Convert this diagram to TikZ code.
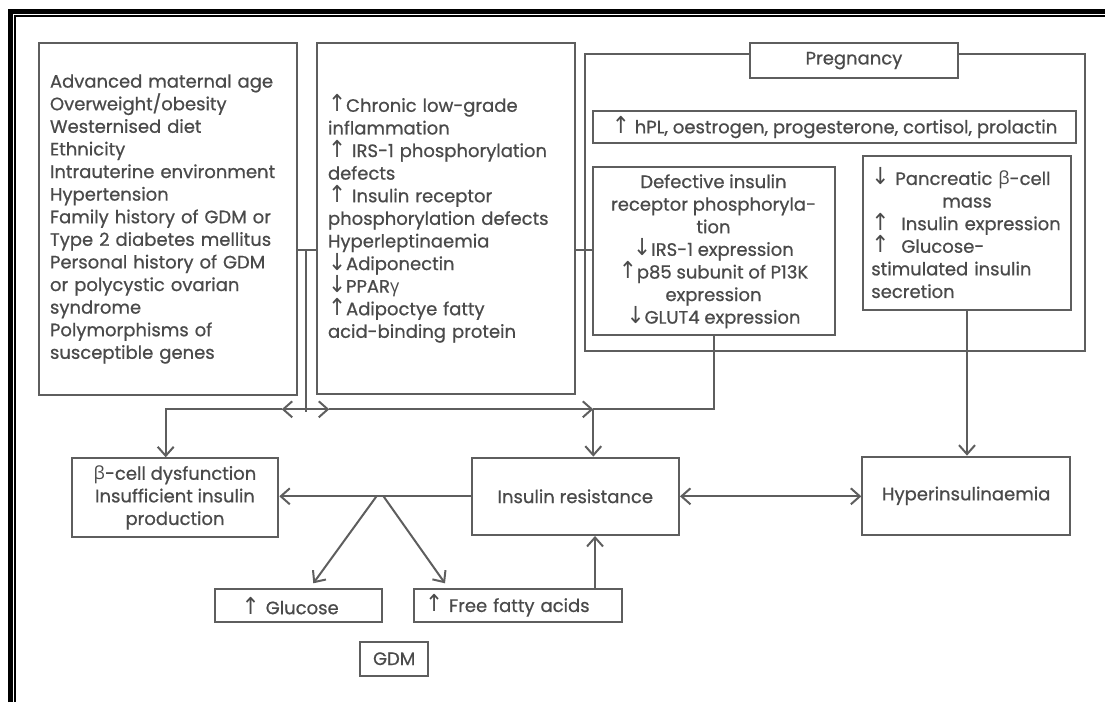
\documentclass[tikz,border=0pt]{standalone}
\usepackage{fontspec}
\usepackage{graphicx}
\setmainfont{Poppins}[FakeBold=0.7]
\newfontfamily\symfont{DejaVu Sans}
\newfontfamily\grkfont{Open Sans}
\usetikzlibrary{arrows.meta}
\newcommand{\uarr}{\scalebox{1.2}[1.3]{\symfont\char"2191}}
\newcommand{\darr}{\scalebox{1.2}[1.3]{\symfont\char"2193}}
\newcommand{\gbeta}{{\grkfont β}}
\newcommand{\ggamma}{{\grkfont γ}}
\definecolor{ln}{HTML}{5E5E5E}
\definecolor{tx}{HTML}{4A4A4A}
\begin{document}
\begin{tikzpicture}[x=1pt,y=-1pt,
  every node/.style={font=\fontsize{18}{22.6}\selectfont, text=tx},
  box/.style={draw=ln, line width=2pt, fill=white, inner sep=0pt},
  conn/.style={draw=ln, line width=2pt},
  arr/.style={conn, -{Straight Barb[length=9pt,width=16pt,line width=2pt]}},
  biarr/.style={conn, {Straight Barb[length=9pt,width=16pt,line width=2pt]}-{Straight Barb[length=9pt,width=16pt,line width=2pt]}}]
\useasboundingbox (0,0) rectangle (1105,702);

% page frame: heavy rule with a thin inner rule, left and top
\draw[line width=5pt] (10.5,702) -- (10.5,11.5) -- (1105,11.5);
\draw[line width=1.8pt] (15,702) -- (15,15.8) -- (1105,15.8);

% risk factors
\node[box, minimum width=258pt, minimum height=352pt, text width=236pt,
      inner xsep=11pt, align=left] (risk) at (168,219) {%
Advanced maternal age\\
Overweight/obesity\\
Westernised diet\\
Ethnicity\\
Intrauterine environment\\
Hypertension\\
Family history of GDM or\\
Type 2 diabetes mellitus\\
Personal history of GDM\\
or polycystic ovarian\\
syndrome\\
Polymorphisms of\\
susceptible genes};

% obesity-related mechanisms
\node[box, minimum width=258pt, minimum height=351pt, text width=236pt,
      inner xsep=11pt, align=left] (obes) at (446,218.7) {%
\uarr Chronic low-grade\\
inflammation\\
\uarr\ IRS-1 phosphorylation\\
defects\\
\uarr\ Insulin receptor\\
phosphorylation defects\\
Hyperleptinaemia\\
\darr Adiponectin\\
\darr PPAR\ggamma\\
\uarr Adipoctye fatty\\
acid-binding protein};

% pregnancy frame
\node[box, fill=none, minimum width=500pt, minimum height=296.3pt] (preg) at (835,202.5) {};
\node[box, minimum width=207.7pt, minimum height=34.5pt] (pregl) at (854,60.6) {Pregnancy};
\node[box, minimum width=482.8pt, minimum height=32.3pt] (horm) at (834.6,127.2)
  {\uarr\ hPL, oestrogen, progesterone, cortisol, prolactin};
\node[box, minimum width=242pt, minimum height=168pt, align=center] (defr) at (713.5,251.3) {%
Defective insulin\\
receptor phosphoryla-\\
tion\\
\darr IRS-1 expression\\
\uarr p85 subunit of P13K\\
expression\\
\darr GLUT4 expression};
\node[box, minimum width=207.4pt, minimum height=154pt, text width=191.4pt,
      inner xsep=8pt, align=left] (panc) at (967,233) {%
\darr\ Pancreatic \gbeta-cell\\
\makebox[\hsize][c]{mass}\\
\uarr\ \ Insulin expression\\
\uarr\ \ Glucose-\\
stimulated insulin\\
secretion};

% outcomes
\node[box, minimum width=206.6pt, minimum height=79pt, align=center] (bcell) at (175,497.8) {%
\gbeta-cell dysfunction\\
Insufficient insulin\\
production};
\node[box, minimum width=207.3pt, minimum height=77.3pt] (ires) at (575.3,496.3) {Insulin resistance};
\node[box, minimum width=207.7pt, minimum height=78.3pt] (hyper) at (966.2,495.8) {Hyperinsulinaemia};
\node[box, minimum width=166.7pt, minimum height=33.3pt, text width=113.3pt,
      inner xsep=26.7pt, align=left] (gluc) at (298.3,605.7) {\uarr\ Glucose};
\node[box, minimum width=207.4pt, minimum height=33.3pt, text width=186pt,
      inner xsep=10.7pt, align=left] (ffa) at (518,605.7) {\uarr\ Free fatty acids};
\node[box, minimum width=68.3pt, minimum height=34pt] (gdm) at (394.2,658.7) {GDM};

% junction points of the connector bus
\coordinate (j1) at (305.7,250);
\coordinate (j2) at (305.7,409.3);
\coordinate (j2end) at (305.7,411.7);
\coordinate (aL) at (281.7,409.3);
\coordinate (aR) at (329.3,409.3);
\coordinate (dropL) at (165.7,409.3);
\coordinate (dropIR) at (593.3,409.3);
\coordinate (xF) at (595,0);
\coordinate (s1) at (376.7,496);
\coordinate (s2) at (383.3,496);
\coordinate (t1) at (313.3,583.3);
\coordinate (t2) at (445,583.3);

% links between the upper boxes
\draw[conn] (risk.east |- j1) -- (obes.west |- j1);
\draw[conn] (obes.east |- j1) -- (defr.west |- j1);
\draw[conn] (j1) -- (j2end);

% bus to the outcomes
\draw[arr] (j2) -- (aL);
\draw[arr] (aL) -- (dropL) -- (dropL |- bcell.north);
\draw[arr] (j2) -- (aR);
\draw[arr] (aR) -- (dropIR);
\draw[arr] (dropIR) -- (dropIR |- ires.north);
\draw[conn] (defr.south) |- (dropIR);
\draw[arr] (panc.south) -- (panc.south |- hyper.north);

% outcome links
\draw[arr] (ires.west) -- (ires.west -| bcell.east);
\draw[biarr] (ires.east) -- (ires.east -| hyper.west);
\draw[arr] (s1) -- (t1);
\draw[arr] (s2) -- (t2);
\draw[arr] (ffa.north -| xF) -- (ires.south -| xF);
\end{tikzpicture}
\end{document}
